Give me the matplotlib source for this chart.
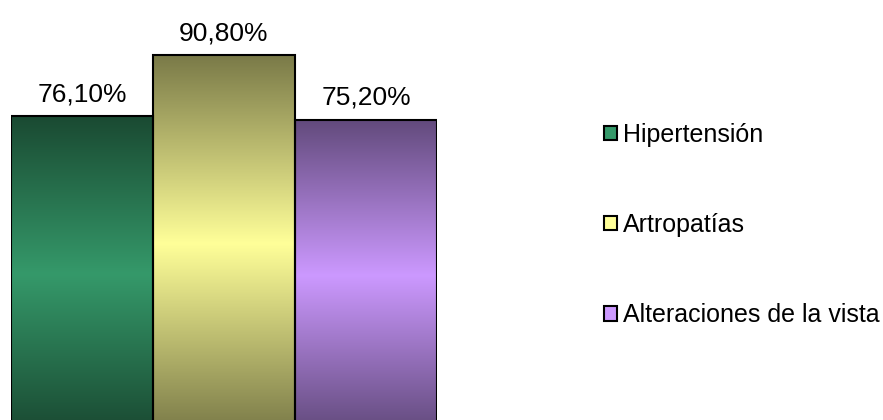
import matplotlib.pyplot as plt
import numpy as np
from matplotlib.colors import LinearSegmentedColormap
from matplotlib.patches import Patch

plt.rcParams['font.family'] = ['Liberation Sans', 'DejaVu Sans']

categories = ["Hipertensión", "Artropatías", "Alteraciones de la vista"]
values = [76.1, 90.8, 75.2]
light_colors = ["#35996a", "#ffff99", "#cc99ff"]
dark_colors = ["#1a4a32", "#7a7a48", "#624a7c"]

fig = plt.figure(figsize=(8.83, 4.2), dpi=100)
ax = fig.add_axes([11 / 883, -12 / 420, 426 / 883, 432 / 420])
ax.set_xlim(-0.5, len(categories) - 0.5)
ax.set_ylim(0, 104.1)
ax.axis("off")

x = np.arange(len(categories))
bars = ax.bar(x, values, width=1.0, color="none", edgecolor="black",
              linewidth=1.5, zorder=3)

# vertical gradient: dark at both ends, light in the middle
grad = np.linspace(0, 1, 256).reshape(-1, 1)
for bar, light, dark in zip(bars, light_colors, dark_colors):
    cmap = LinearSegmentedColormap.from_list("g", [dark, light, dark])
    x0, y0 = bar.get_x(), bar.get_y()
    w, h = bar.get_width(), bar.get_height()
    im = ax.imshow(grad, cmap=cmap, aspect="auto", origin="lower",
                   extent=(x0, x0 + w, y0, y0 + h), zorder=2,
                   interpolation="bicubic")
    im.set_clip_path(bar)

for xi, v in zip(x, values):
    ax.text(xi, v + 2.4, f"{v:.2f}%".replace(".", ","), ha="center",
            va="bottom", fontsize=19, color="black")

handles = [Patch(facecolor=c, edgecolor="black", linewidth=1.5)
           for c in light_colors]
fig.legend(handles, categories, loc="center left",
           bbox_to_anchor=(604 / 883, 1 - 225 / 420), frameon=False,
           fontsize=18, handlelength=0.5, handleheight=0.5,
           handletextpad=0.25, labelspacing=2.65, borderpad=0,
           borderaxespad=0)

fig.savefig("out.png", dpi=100)
